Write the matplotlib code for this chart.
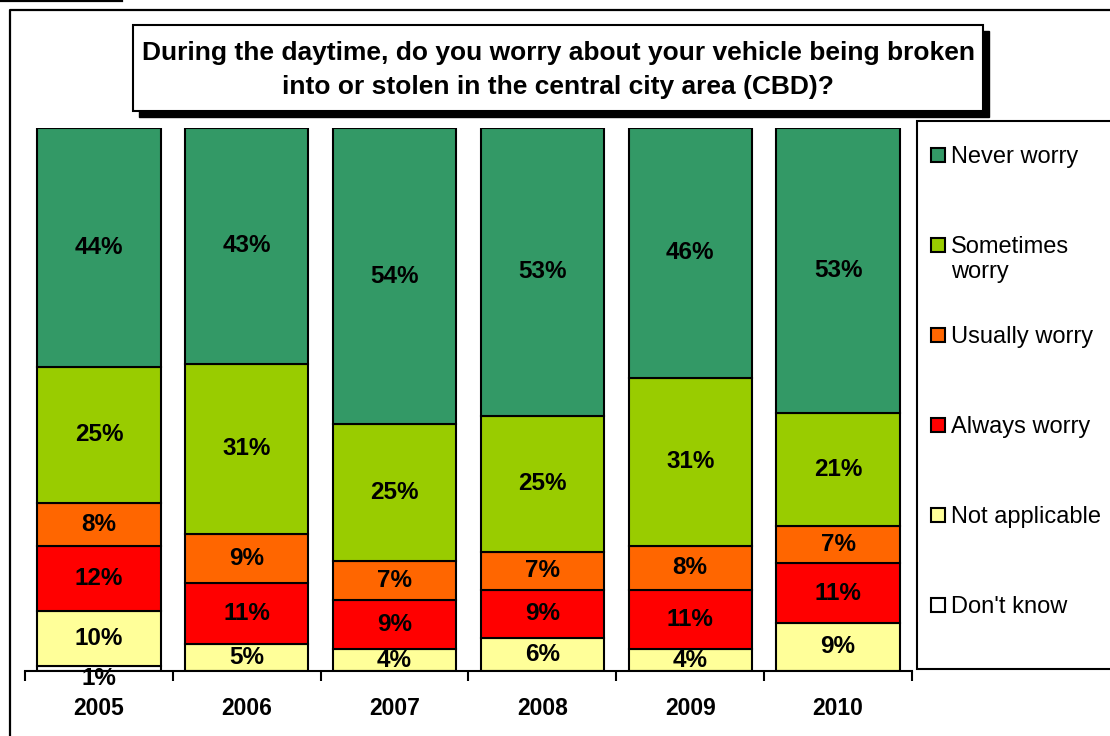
import matplotlib
matplotlib.use("Agg")
import matplotlib.pyplot as plt
from matplotlib.patches import Rectangle
from matplotlib.lines import Line2D
import numpy as np

plt.rcParams['font.family'] = ['Liberation Sans', 'DejaVu Sans']

years = ["2005", "2006", "2007", "2008", "2009", "2010"]
categories = ["Never worry", "Sometimes worry", "Usually worry", "Always worry",
              "Not applicable", "Don't know"]
legend_labels = ["Never worry", "Sometimes\nworry", "Usually worry", "Always worry",
                 "Not applicable", "Don't know"]
never_worry = [44, 43, 54, 53, 46, 53]
sometimes_worry = [25, 31, 25, 25, 31, 21]
usually_worry = [8, 9, 7, 7, 8, 7]
always_worry = [12, 11, 9, 9, 11, 11]
not_applicable = [10, 5, 4, 6, 4, 9]
dont_know = [1, 0, 0, 0, 0, 0]
colors = ["#339966", "#99CC00", "#FF6600", "#FF0000", "#FFFF99", "#FFFFFF"]

W, H = 1110, 736
fig = plt.figure(figsize=(W / 100, H / 100), dpi=100)

def fx(px):
    return px / W

def fy(py):
    return 1 - py / H

# outer frame
fig.add_artist(Line2D([fx(10), fx(10), fx(1112)], [fy(740), fy(10), fy(10)],
                      color="black", lw=1.6, transform=fig.transFigure))
fig.add_artist(Line2D([fx(0), fx(122)], [fy(0.8), fy(0.8)],
                      color="black", lw=1.6, transform=fig.transFigure))

# axes
ax = fig.add_axes([fx(25), fy(671), fx(912 - 25), (671 - 128) / H])
stack = [never_worry, sometimes_worry, usually_worry, always_worry, not_applicable, dont_know]
data = np.array(stack[::-1], dtype=float)  # bottom to top: Don't know ... Never worry
cols = colors[::-1]
totals = data.sum(axis=0)
frac = data / totals
x = np.arange(len(years))
bottom = np.zeros(len(years))
for row, vals, c in zip(frac, data, cols):
    ax.bar(x, row, bottom=bottom, width=0.835, color=c, edgecolor="black", linewidth=1.5)
    for xi, (f, v, b) in enumerate(zip(row, vals, bottom)):
        if v > 0:
            yc = b + f / 2
            if f < 0.02:
                yc = b + f / 2 - 0.018
            ax.text(xi, yc, f"{int(v)}%", ha="center", va="center",
                    fontsize=17.5, fontweight="bold", color="black")
    bottom += row

ax.set_xlim(-0.5, len(years) - 0.5)
ax.set_ylim(0, 1)
for s in ["top", "right", "left"]:
    ax.spines[s].set_visible(False)
ax.spines["bottom"].set_linewidth(1.5)
ax.set_yticks([])
ax.set_xticks(x)
ax.set_xticklabels(years, fontsize=16.5, fontweight="bold")
ax.tick_params(axis="x", which="major", length=0, pad=19)
ax.set_xticks(np.arange(-0.5, len(years), 1.0), minor=True)
ax.tick_params(axis="x", which="minor", length=7, width=1.5, direction="out")
ax.patch.set_alpha(0)

# title box with shadow
tb_l, tb_t, tb_r, tb_b = 133, 25, 983, 111
fig.add_artist(Rectangle((fx(tb_l + 6), fy(tb_b + 6)), fx(tb_r - tb_l), (tb_b - tb_t) / H,
                         facecolor="black", edgecolor="black", transform=fig.transFigure))
fig.add_artist(Rectangle((fx(tb_l), fy(tb_b)), fx(tb_r - tb_l), (tb_b - tb_t) / H,
                         facecolor="white", edgecolor="black", lw=1.5, transform=fig.transFigure))
fig.text(fx((tb_l + tb_r) / 2), fy(70),
         "During the daytime, do you worry about your vehicle being broken\n"
         "into or stolen in the central city area (CBD)?",
         ha="center", va="center", fontsize=19, fontweight="bold", linespacing=1.55)

# legend box
fig.add_artist(Rectangle((fx(917), fy(669)), fx(1120 - 917), (669 - 121) / H,
                         facecolor="white", edgecolor="black", lw=1.5, transform=fig.transFigure))
entry_y = [155, 245, 335, 425, 515, 605]
for lab, c, ey in zip(legend_labels, colors, entry_y):
    fig.add_artist(Rectangle((fx(931), fy(ey + 7)), fx(14), 14 / H,
                             facecolor=c, edgecolor="black", lw=1.5, transform=fig.transFigure))
    fig.text(fx(951), fy(ey - 9), lab, ha="left", va="top", fontsize=17, linespacing=1.2)

fig.savefig("out.png", dpi=100)
